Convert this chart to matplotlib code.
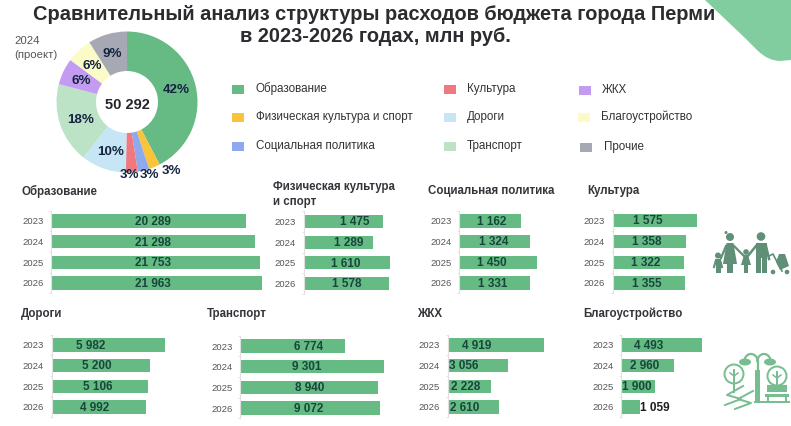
import numpy as np
import matplotlib
matplotlib.use("Agg")
import matplotlib.pyplot as plt
from matplotlib.patches import Rectangle, Circle, PathPatch, Polygon, Ellipse
from matplotlib.path import Path

plt.rcParams['font.family'] = ['Liberation Sans', 'DejaVu Sans']

W, H = 791, 426
GREEN = '#66BB85'
DARK = '#17463A'
TEXT = '#2B2B30'
GREY = '#55555A'
ICON = '#5F8F76'

years = ['2023', '2024', '2025', '2026']
education = [20289, 21298, 21753, 21963]
sport = [1475, 1289, 1610, 1578]
social = [1162, 1324, 1450, 1331]
culture = [1575, 1358, 1322, 1355]
roads = [5982, 5200, 5106, 4992]
transport = [6774, 9301, 8940, 9072]
housing = [4919, 3056, 2228, 2610]
improvement = [4493, 2960, 1900, 1059]

pie_names = ['Образование', 'Физическая культура и спорт', 'Социальная политика', 'Культура',
             'Дороги', 'Транспорт', 'ЖКХ', 'Благоустройство', 'Прочие']
pie_values = [21298, 1289, 1324, 1358, 5200, 9301, 3056, 2960, 4506]
pie_labels = ['42%', '3%', '3%', '3%', '10%', '18%', '6%', '6%', '9%']
pie_total = '50 292'
pie_colors = ['#66BB85', '#F9C33C', '#8FA9EE', '#F0797F', '#C6E6F5', '#BCE3C6', '#C39BF0', '#FBFBC8', '#A6A9B3']
pie_label_xy = [(176, 90), (171, 171), (149, 175), (129, 175), (111, 152), (81, 120), (81, 81), (92, 66), (112, 54)]
legend_xy = [(232, 89), (232, 117), (232, 146), (444, 89), (444, 117), (444, 146), (579, 90), (578, 117), (580, 147)]
legend_text_x = [256, 256, 256, 467, 467, 467, 602, 601, 604]

fig = plt.figure(figsize=(W / 100, H / 100), dpi=100, facecolor='white')
bg = fig.add_axes([0, 0, 1, 1])
bg.set_xlim(0, W)
bg.set_ylim(H, 0)
bg.axis('off')

# corner decoration
corner = Path([(705, 0), (745, 38), (757, 50), (768, 61), (780, 61), (791, 60), (791, 0), (705, 0)],
              [Path.MOVETO, Path.LINETO, Path.LINETO, Path.CURVE3, Path.CURVE3, Path.LINETO, Path.LINETO, Path.CLOSEPOLY])
bg.add_patch(PathPatch(corner, fc='#82CDA0', ec='none'))

bg.text(374.5, 14, 'Сравнительный анализ структуры расходов бюджета города Перми', ha='center', va='center',
        fontsize=14.45, fontweight='bold', color=TEXT)
bg.text(375, 36, 'в 2023-2026 годах, млн руб.', ha='center', va='center',
        fontsize=14.45, fontweight='bold', color=TEXT)
bg.text(14, 41, '2024', ha='left', va='center', fontsize=8.2, color=GREY)
bg.text(14, 55.5, '(проект)', ha='left', va='center', fontsize=8.2, color=GREY)

# donut
R = 70.5
cx, cy = 127, 102
pie_ax = fig.add_axes([(cx - R) / W, 1 - (cy + R) / H, 2 * R / W, 2 * R / H])
pie_ax.pie(pie_values, colors=pie_colors, startangle=90, counterclock=False, radius=1,
           wedgeprops=dict(width=1 - 31 / R, edgecolor='none'))
pie_ax.set_xlim(-1, 1)
pie_ax.set_ylim(-1, 1)
pie_ax.text(0, -0.04, pie_total, ha='center', va='center', fontsize=10.5, fontweight='bold', color='#26262A')

overlay = fig.add_axes([0, 0, 1, 1], zorder=10)
overlay.set_xlim(0, W)
overlay.set_ylim(H, 0)
overlay.axis('off')
overlay.patch.set_alpha(0)
for lab, (x, y) in zip(pie_labels, pie_label_xy):
    overlay.text(x, y, lab, ha='center', va='center', fontsize=9.6, fontweight='bold', color='#14233F')

# legend
for name, col, (x, y), tx in zip(pie_names, pie_colors, legend_xy, legend_text_x):
    overlay.add_patch(Rectangle((x, y - 4.5), 11.5, 9.5, fc=col, ec='none'))
    overlay.text(tx, y, name, ha='left', va='center', fontsize=8.35, color='#333338')


def panel(values, title, title_xy, x0, unit_end, row_y, label_x, label_dark=None):
    """values drawn through a real axes; x0 and unit_end (value, px) set its scale."""
    ref_val, ref_px = unit_end
    scale = (ref_px - x0) / ref_val
    step = (row_y[-1] - row_y[0]) / 3
    top = row_y[0] - step / 2
    bottom = row_y[-1] + step / 2
    width_px = max(values) * scale + 2
    ax = fig.add_axes([x0 / W, 1 - bottom / H, width_px / W, (bottom - top) / H])
    ax.patch.set_alpha(0)
    ax.set_xlim(0, width_px / scale)
    ax.set_ylim(3.5, -0.5)
    ax.barh(range(4), values, height=0.64, color=GREEN, edgecolor='none')
    for s in ('top', 'right', 'bottom'):
        ax.spines[s].set_visible(False)
    ax.spines['left'].set_color('#E0E0E0')
    ax.spines['left'].set_linewidth(0.8)
    ax.set_xticks([])
    ax.set_yticks(range(4))
    ax.set_yticklabels(years, fontsize=6.8, color=GREY)
    ax.tick_params(axis='y', length=0, pad=5.5)
    ax.set_yticks([-0.5, 0.5, 1.5, 2.5, 3.5], minor=True)
    ax.tick_params(axis='y', which='minor', length=1.5, width=0.6, color='#E0E0E0')
    for i, v in enumerate(values):
        s = f'{v:,}'.replace(',', ' ')
        col = DARK if label_dark is None or label_dark[i] else '#1E1E22'
        overlay.text(label_x[i], row_y[i] + 0.8, s, ha='center', va='center', fontsize=8.5,
                     fontweight='bold', color=col)
    lines = title.split('\n')
    for j, ln in enumerate(lines):
        overlay.text(title_xy[0], title_xy[1] + j * 14.5, ln, ha='left', va='center',
                     fontsize=8.3, fontweight='bold', color='#34343A')


panel(education, 'Образование', (21, 191), 51, (21963, 261.7), [221, 241.7, 262, 283], [153, 153, 153, 153])
panel(sport, 'Физическая культура\nи спорт', (273, 187), 303.5, (1610, 390.5), [221.5, 242, 263, 283.5], [355, 349, 346, 347])
panel(social, 'Социальная политика', (428, 191), 459, (1450, 536.5), [221, 241.5, 262, 283], [492, 494, 492, 493])
panel(culture, 'Культура', (587, 191), 612.7, (1575, 697.3), [220.5, 241, 262, 283], [648, 647, 646, 647])
panel(roads, 'Дороги', (21, 314), 51.5, (5982, 165), [345, 365.5, 386, 407], [91, 97, 98, 95])
panel(transport, 'Транспорт', (207, 314.5), 240, (9301, 383.5), [346, 366.5, 387, 408], [309, 307, 310, 309])
panel(housing, 'ЖКХ', (417, 314), 447.7, (4919, 544.3), [345, 365, 386, 407], [477, 464, 466, 465])
panel(improvement, 'Благоустройство', (583, 314), 621.3, (4493, 702), [345, 365.5, 386.5, 407],
      [649, 645, 637, 655], [True, True, True, False])


# family icon
def person(x, head_y, head_r, w, top, bot):
    overlay.add_patch(Circle((x, head_y), head_r, fc=ICON, ec='none'))
    overlay.add_patch(Rectangle((x - w / 2, top), w, bot - top, fc=ICON, ec='none'))


person(761, 236.5, 4.3, 11, 243, 273)
overlay.add_patch(Rectangle((760.5, 258), 1, 15, fc='white', ec='none'))
overlay.plot([756, 747], [246, 257], color=ICON, lw=1.8)
overlay.plot([766, 769], [246, 259], color=ICON, lw=1.8)
person(730, 237, 4, 6.5, 243, 273)
overlay.add_patch(Polygon([(726.5, 243), (733.5, 243), (737, 264), (723, 264)], fc=ICON, ec='none'))
overlay.add_patch(Circle((726, 232.5), 1.5, fc=ICON, ec='none'))
overlay.plot([726, 721], [246, 258], color=ICON, lw=1.6)
overlay.plot([734, 744], [246, 256], color=ICON, lw=1.6)
person(746, 252, 2.8, 4, 255, 273)
overlay.add_patch(Polygon([(744, 255), (748, 255), (751, 265), (741, 265)], fc=ICON, ec='none'))
person(718, 255.5, 3, 5, 259, 273)
overlay.plot([716, 714], [260, 267], color=ICON, lw=1.5)
overlay.plot([720, 722], [260, 267], color=ICON, lw=1.5)
# stroller
overlay.add_patch(Polygon([(776, 262), (779, 254), (785, 254), (789, 266), (780, 270)], fc=ICON, ec='none'))
overlay.plot([769, 773, 775, 782], [256, 254, 258, 271], color=ICON, lw=1.2)
overlay.add_patch(Circle((773, 272), 2.3, fc=ICON, ec='none'))
overlay.add_patch(Circle((787, 272), 2.3, fc=ICON, ec='none'))

# park icon
PARK = '#76BD90'
overlay.add_patch(Rectangle((755, 370), 5, 33, fc=PARK, ec='none'))
th = np.linspace(np.pi, 0, 30)
overlay.plot(751 + 6.5 * np.cos(th), 361 - 7 * np.sin(th), color=PARK, lw=1.6)
overlay.plot(764 + 6.5 * np.cos(th), 361 - 7 * np.sin(th), color=PARK, lw=1.6)
overlay.plot([757.5, 757.5], [361, 370], color=PARK, lw=1.6)
overlay.add_patch(Ellipse((745, 362), 12, 7, fc=PARK, ec='none'))
overlay.add_patch(Ellipse((770, 362), 12, 7, fc=PARK, ec='none'))
for tx, ty, end in ((734, 374, 392), (777, 376, 386)):
    overlay.add_patch(Circle((tx, ty), 9.5, fc='white', ec=PARK, lw=1.4))
    overlay.plot([tx, tx], [ty - 4, end], color=PARK, lw=1.4)
    overlay.plot([tx - 4, tx, tx + 4], [ty - 1, ty + 2, ty - 1], color=PARK, lw=1.1)
overlay.add_patch(Rectangle((767, 385), 20, 7, fc=PARK, ec='none'))
overlay.add_patch(Rectangle((765, 394), 24, 3, fc=PARK, ec='none'))
overlay.plot([768, 768], [396, 402], color=PARK, lw=1.4)
overlay.plot([786, 786], [396, 402], color=PARK, lw=1.4)
overlay.plot([743, 727, 741, 725], [386, 395, 399, 405], color=PARK, lw=1.4)
overlay.plot([753, 738, 751, 735], [391, 399, 403, 409], color=PARK, lw=1.4)
overlay.plot([755, 789], [402, 402], color=PARK, lw=1.4)

fig.savefig('out.png', dpi=100, facecolor='white')
